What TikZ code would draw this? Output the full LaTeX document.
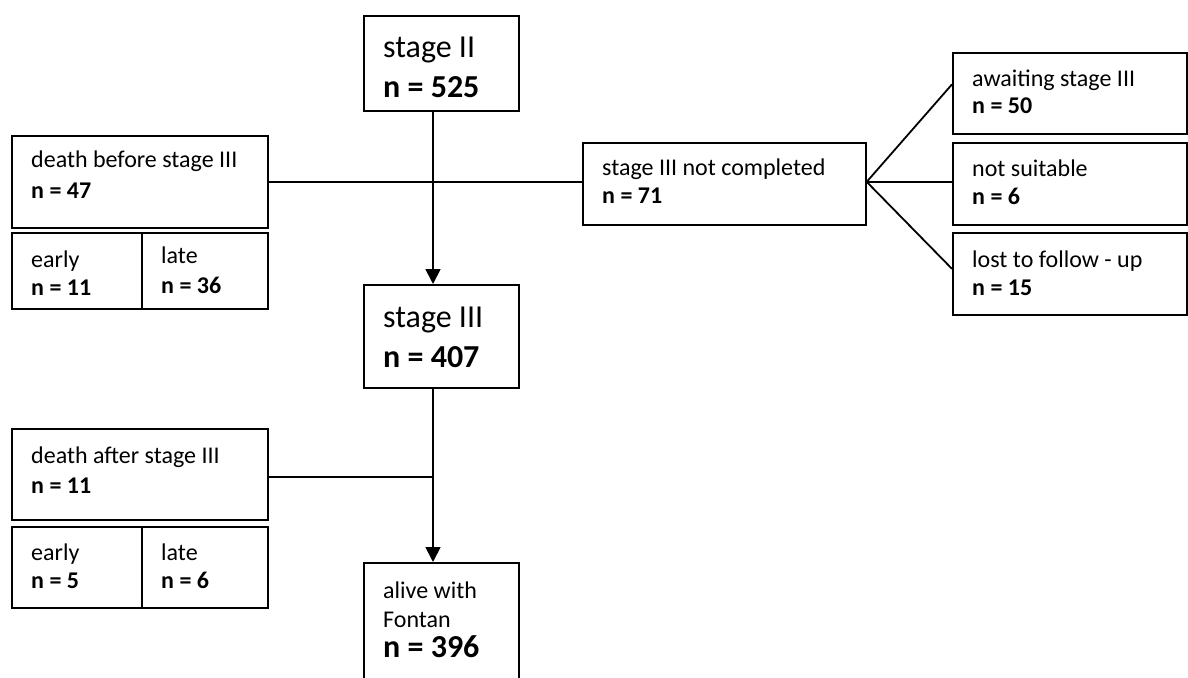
\documentclass[tikz,border=0pt]{standalone}
\usepackage{fontspec}
\setmainfont{Carlito}
\usetikzlibrary{arrows.meta,calc}
\begin{document}
\begin{tikzpicture}[x=1pt,y=-1pt,
  box/.style={draw, line width=1.7pt, rectangle, anchor=north west, inner sep=0pt},
  sm/.style={anchor=base west, inner sep=0pt, font=\fontsize{24}{28}\selectfont},
  smb/.style={anchor=base west, inner sep=0pt, font=\fontsize{24}{28}\selectfont\bfseries},
  lg/.style={anchor=base west, inner sep=0pt, font=\fontsize{32}{38}\selectfont},
  lgb/.style={anchor=base west, inner sep=0pt, font=\fontsize{32}{38}\selectfont\bfseries},
  conn/.style={line width=1.8pt},
  arr/.style={line width=1.8pt, -{Triangle[width=15pt,length=15pt]}}]
\useasboundingbox (0,0) rectangle (1188,677);
\clip (0,0) rectangle (1188,677);
\fill[white] (0,0) rectangle (1188,677);
% boxes
\node[box, minimum width=155pt, minimum height=95pt] (s2) at (363,15) {};
\node[box, minimum width=155pt, minimum height=103pt] (s3) at (363,284) {};
\node[box, minimum width=155pt, minimum height=125pt] (al) at (363,562) {};
\node[box, minimum width=256pt, minimum height=92pt] (db) at (11,135) {};
\node[box, minimum width=130pt, minimum height=76pt] (dbe) at (11,232) {};
\node[box, minimum width=126pt, minimum height=76pt] (dbl) at (141,232) {};
\node[box, minimum width=283pt, minimum height=82pt] (snc) at (582,142) {};
\node[box, minimum width=234pt, minimum height=81pt] (aw) at (952,52) {};
\node[box, minimum width=234pt, minimum height=82pt] (ns) at (952,142) {};
\node[box, minimum width=234pt, minimum height=82pt] (lo) at (952,232) {};
\node[box, minimum width=256pt, minimum height=91pt] (da) at (11,428) {};
\node[box, minimum width=130pt, minimum height=81pt] (dae) at (11,526) {};
\node[box, minimum width=126pt, minimum height=81pt] (dal) at (141,526) {};
% texts
\node[lg] (s2a) at (383,57) {stage II};
\node[lgb] (s2b) at (383,97) {n = 525};
\node[lg] (s3a) at (383,327) {stage III};
\node[lgb] (s3b) at (383,367) {n = 407};
\node[sm] (ala) at (383,598) {alive with};
\node[sm] (alb) at (383,627) {Fontan};
\node[lgb] (alc) at (383,657) {n = 396};
\node[sm] (dba) at (31,167) {death before stage III};
\node[smb] (dbb) at (31,198) {n = 47};
\node[sm] (dbea) at (31,267) {early};
\node[smb] (dbeb) at (31,295) {n = 11};
\node[sm] (dbla) at (161,263) {late};
\node[smb] (dblb) at (161,293) {n = 36};
\node[sm] (snca) at (602,175) {stage III not completed};
\node[smb] (sncb) at (602,203) {n = 71};
\node[sm] (awa) at (972,86) {awaiting stage III};
\node[smb] (awb) at (972,113) {n = 50};
\node[sm] (nsa) at (972,176) {not suitable};
\node[smb] (nsb) at (972,204) {n = 6};
\node[sm] (loa) at (972,267) {lost to follow - up};
\node[smb] (lob) at (972,295) {n = 15};
\node[sm] (daa) at (31,463) {death after stage III};
\node[smb] (dab) at (31,493) {n = 11};
\node[sm] (daea) at (31,560) {early};
\node[smb] (daeb) at (31,588) {n = 5};
\node[sm] (dala) at (161,560) {late};
\node[smb] (dalb) at (161,588) {n = 6};
% connectors
\coordinate (trunk) at (433,0);
\coordinate (fan) at ($(snc.east)+(0,-2)$);
\draw[arr] (s2.south -| trunk) -- (s3.north -| trunk);
\draw[conn] (db.east) -- (db.east -| snc.west);
\draw[conn] (fan) -- ($(aw.west)+(0,-9)$);
\draw[conn] (fan) -- (fan -| ns.west);
\draw[conn] (fan) -- ($(lo.west)+(0,-5)$);
\draw[conn] ($(da.east)+(0,3)$) -- ($(da.east -| trunk)+(0,3)$);
\draw[arr] (s3.south -| trunk) -- (al.north -| trunk);
\end{tikzpicture}
\end{document}
